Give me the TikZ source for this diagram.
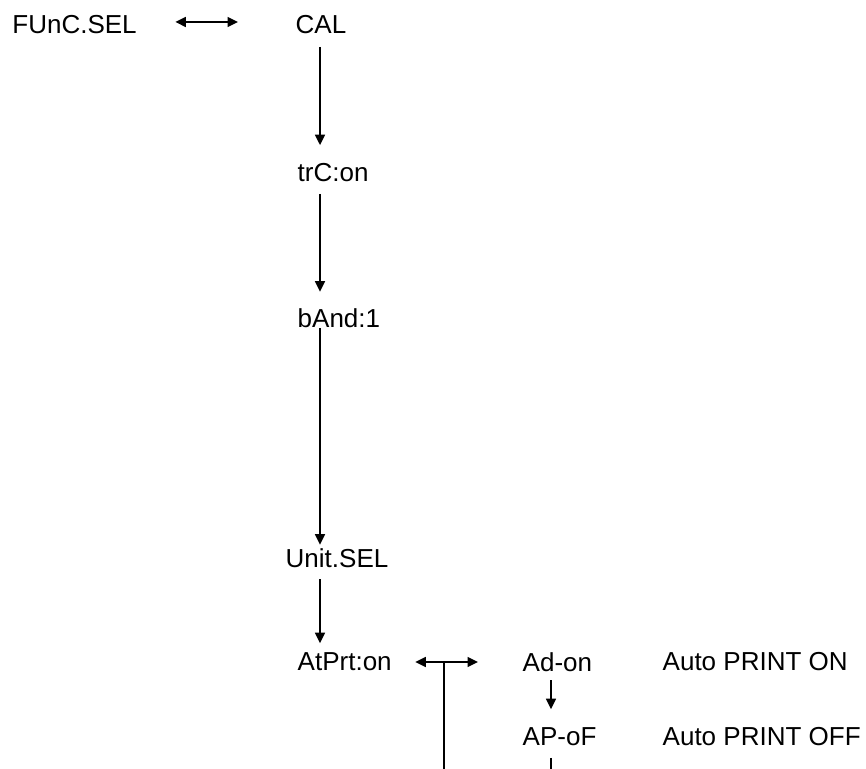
\documentclass[tikz,border=0pt]{standalone}
\usepackage{fontspec}
\setmainfont{Liberation Sans}
\usetikzlibrary{arrows.meta}
\begin{document}
\begin{tikzpicture}[
    lbl/.style={anchor=west,inner sep=0pt,font=\fontsize{7.4}{9}\selectfont},
    arr/.style={-{Triangle[length=1.05mm,width=1mm]},line width=0.45pt},
    darr/.style={{Triangle[length=1.05mm,width=1mm]}-{Triangle[length=1.05mm,width=1mm]},line width=0.45pt}]
    \useasboundingbox (0,0) rectangle (8.66,-7.69);
    % guide lines
    \coordinate (spine) at (3.20,0);
    \coordinate (sub) at (5.51,0);
    \coordinate (edge) at (0,-7.69);
    % main menu
    \node[lbl] (fsel) at (0.117,-0.25) {FUnC.SEL};
    \node[lbl] (cal) at (2.95,-0.25) {CAL};
    \node[lbl] (trc) at (2.97,-1.73) {trC:on};
    \node[lbl] (band) at (2.97,-3.18) {bAnd:1};
    \node[lbl] (unit) at (2.85,-5.58) {Unit.SEL};
    \node[lbl] (atprt) at (2.97,-6.62) {AtPrt:on};
    % sub menu
    \node[lbl] (adon) at (5.22,-6.62) {Ad-on};
    \node[lbl] (apof) at (5.22,-7.37) {AP-oF};
    \node[lbl] (txton) at (6.62,-6.62) {Auto PRINT ON};
    \node[lbl] (txtoff) at (6.62,-7.37) {Auto PRINT OFF};
    % connectors
    \draw[darr,shorten <=0.38cm,shorten >=0.57cm] ([yshift=0.03cm]fsel.east) -- ([yshift=0.03cm]cal.west);
    \draw[arr,shorten <=0.12cm,shorten >=0.18cm] (cal.south -| spine) -- (trc.north -| spine);
    \draw[arr,shorten <=0.11cm,shorten >=0.16cm] (trc.south -| spine) -- (band.north -| spine);
    \draw[arr,shorten >=0.03cm] (band.south -| spine) -- (unit.north -| spine);
    \draw[arr,shorten <=0.11cm,shorten >=0.09cm] (unit.south -| spine) -- (atprt.north -| spine);
    \draw[darr,shorten <=0.23cm,shorten >=0.44cm] (atprt.east) -- (adon.west);
    \coordinate (tee) at (4.44,-6.62);
    \draw[line width=0.45pt] (tee) -- (tee |- edge);
    \draw[arr,shorten <=0.08cm,shorten >=0.18cm] (adon.south -| sub) -- (apof.north -| sub);
    \draw[line width=0.45pt,shorten <=0.11cm] (apof.south -| sub) -- (edge -| sub);
\end{tikzpicture}
\end{document}
